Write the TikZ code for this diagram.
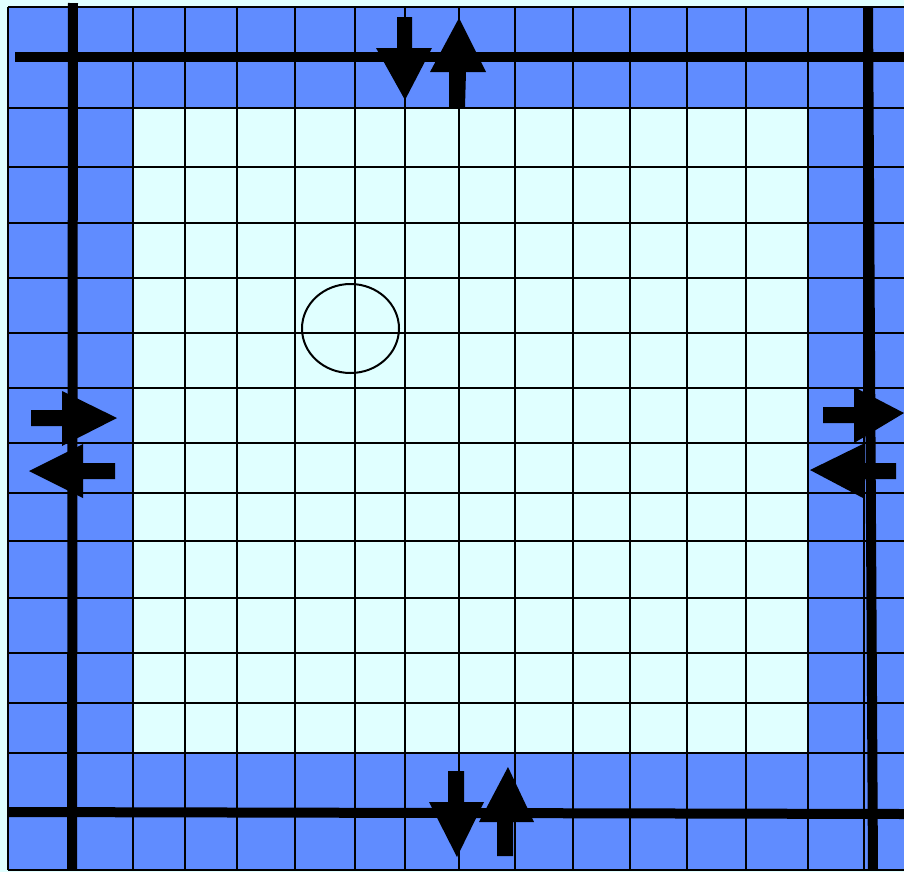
\documentclass[tikz,border=0pt]{standalone}
\definecolor{bluecell}{RGB}{96,140,255}
\definecolor{lightcell}{RGB}{224,255,255}
\tikzset{
  thin grid/.style={line width=1.5pt, black},
  thick grid/.style={line width=7.5pt, black},
  blockarrow/.style={fill=black, draw=none},
}
\begin{document}
\begin{tikzpicture}[x=0.75pt,y=-0.75pt]
\useasboundingbox (0,0) rectangle (904,872);
\fill[lightcell] (0,0) rectangle (904,872);
\fill[bluecell] (8,7) rectangle (904,870);
\fill[lightcell] (134,108) rectangle (808,753);
% thin grid
\foreach \x in {8,133,185,237,295,355,405,459,515,573,630,687,746,808}
  \draw[thin grid] (\x,7) -- (\x,870);
\foreach \y in {7,108,167,223,278,333,388,443,493,541,598,653,703,753,870}
  \draw[thin grid] (8,\y) -- (904,\y);
\draw[thin grid] (864,7) -- (864,870);
% thick lines
\draw[thick grid] (15,57) -- (904,57);
\draw[thick grid] (8,812) -- (904,814);
\draw[thick grid] (73,3) -- (72,870);
\draw[thick grid] (868,7) -- (873,870);
% circle
\draw[line width=1.5pt] (350.5,328.5) ellipse [x radius=48.5, y radius=44.5];
% top arrows
\fill[blockarrow] (397,17) -- (412,17) -- (412,48) -- (432,48) -- (405,100) -- (376,48) -- (397,48) -- cycle;
\fill[blockarrow] (459,18) -- (486,72) -- (466,72) -- (465,107) -- (449,107) -- (449,72) -- (430,72) -- cycle;
% bottom arrows
\fill[blockarrow] (448,771) -- (464,771) -- (464,802) -- (484,802) -- (457,857) -- (429,802) -- (448,802) -- cycle;
\fill[blockarrow] (508,767) -- (534,822) -- (513,822) -- (513,856) -- (497,856) -- (497,822) -- (479,822) -- cycle;
% left arrows
\fill[blockarrow] (31,410) -- (62,410) -- (62,391) -- (117,418) -- (62,446) -- (62,426) -- (31,426) -- cycle;
\fill[blockarrow] (29,471) -- (83,444) -- (83,463) -- (115,463) -- (115,479) -- (83,479) -- (83,498) -- cycle;
% right arrows
\fill[blockarrow] (823,407) -- (854,407) -- (854,387) -- (904,413) -- (854,443) -- (854,423) -- (823,423) -- cycle;
\fill[blockarrow] (810,470) -- (863,444) -- (863,463) -- (896,463) -- (896,479) -- (863,479) -- (863,498) -- cycle;
\end{tikzpicture}
\end{document}
